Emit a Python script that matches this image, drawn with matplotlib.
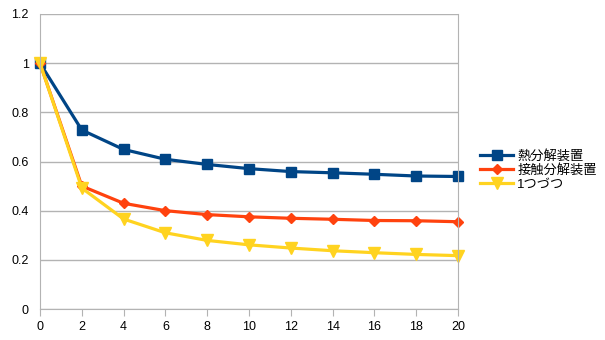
import matplotlib
matplotlib.use("Agg")
import matplotlib.pyplot as plt

plt.rcParams['font.family'] = ['Liberation Sans', 'Noto Sans CJK JP', 'DejaVu Sans']

x = [0, 2, 4, 6, 8, 10, 12, 14, 16, 18, 20]
thermal = [1.0, 0.728, 0.649, 0.609, 0.588, 0.571, 0.559, 0.554, 0.548, 0.541, 0.539]
contact = [1.0, 0.500, 0.430, 0.400, 0.384, 0.375, 0.369, 0.365, 0.360, 0.359, 0.355]
one_by_one = [1.0, 0.492, 0.366, 0.310, 0.279, 0.261, 0.248, 0.237, 0.229, 0.222, 0.217]

labels = ["熱分解装置", "接触分解装置", "1つづつ"]

fig = plt.figure(figsize=(6.05, 3.4), dpi=100)
ax = fig.add_axes([40 / 605, 31 / 340, 418 / 605, 295 / 340])

ax.plot(x, thermal, color="#004586", lw=2.3, marker="s", ms=7, label=labels[0], clip_on=False)
ax.plot(x, contact, color="#ff420e", lw=2.3, marker="D", ms=5.5, label=labels[1], clip_on=False)
ax.plot(x, one_by_one, color="#ffd320", lw=2.3, marker="v", ms=8, label=labels[2], clip_on=False)

ax.set_xlim(0, 20)
ax.set_ylim(0, 1.2)
ax.set_xticks(x)
ax.set_yticks([0, 0.2, 0.4, 0.6, 0.8, 1.0, 1.2])
ax.set_yticklabels(["0", "0.2", "0.4", "0.6", "0.8", "1", "1.2"])
ax.yaxis.grid(True, color="#b3b3b3", lw=1)
ax.set_axisbelow(True)
for s in ax.spines.values():
    s.set_color("#b3b3b3")
ax.spines["top"].set_visible(False)
ax.tick_params(axis="y", length=0, pad=8, labelsize=9)
ax.tick_params(axis="x", length=5, color="#b3b3b3", labelsize=9)

ax.legend(loc="center left", bbox_to_anchor=(1.025, 0.47), frameon=False,
          fontsize=9.5, handlelength=2.5, handletextpad=0.3, labelspacing=0.12)

fig.savefig("out.png", dpi=100)
